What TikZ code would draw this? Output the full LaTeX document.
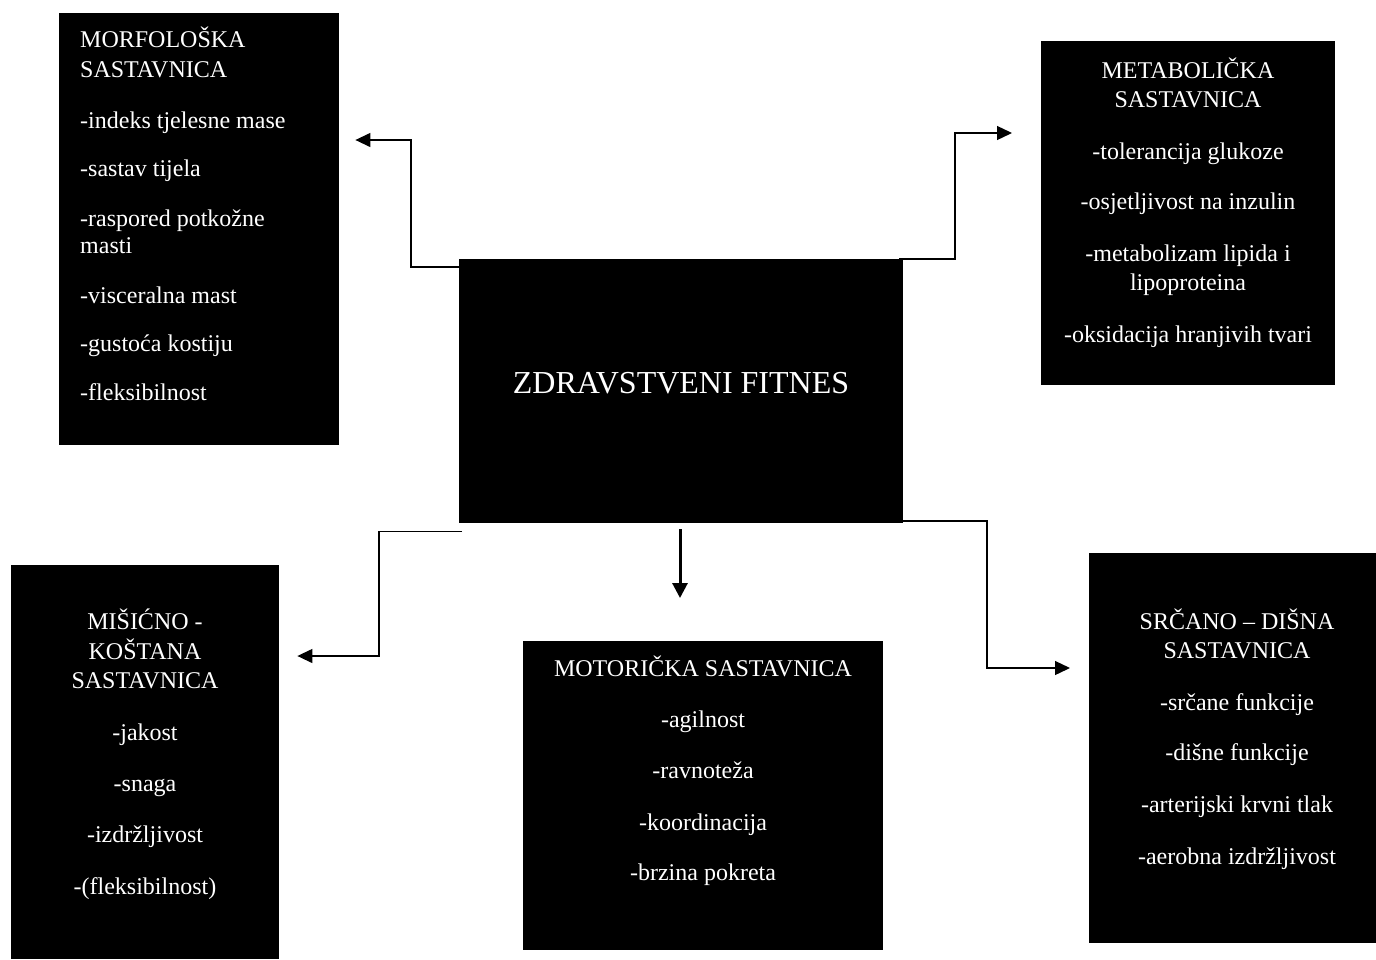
\documentclass[tikz,border=0pt]{standalone}
\usepackage{fontspec}
\setmainfont{Liberation Serif}
\usetikzlibrary{arrows.meta}
\tikzset{
  blk/.style={draw=none,fill=black,inner sep=0pt,anchor=north west},
  t/.style={text=white,font=\fontsize{24}{28}\selectfont,anchor=base,inner sep=0pt},
  tl/.style={t,anchor=base west},
  conn/.style={line width=1.3pt,-{Triangle[length=15pt,width=14pt]}},
  thick conn/.style={line width=3pt,-{Triangle[length=15pt,width=15pt]}}
}
\begin{document}
\begin{tikzpicture}[x=1pt,y=-1pt]
\useasboundingbox (0,0) rectangle (1376,959);
% boxes
\node[blk,minimum width=280pt,minimum height=432pt] (morf) at (59,13) {};
\node[blk,minimum width=294pt,minimum height=344pt] (meta) at (1041,41) {};
\node[blk,minimum width=444pt,minimum height=264pt] (zf) at (459,259) {};
\node[blk,minimum width=268pt,minimum height=394pt] (misi) at (11,565) {};
\node[blk,minimum width=360pt,minimum height=309pt] (moto) at (523,641) {};
\node[blk,minimum width=287pt,minimum height=390pt] (srce) at (1089,553) {};
% centre title
\node[t,font=\fontsize{32}{38}\selectfont] (zft) at (681,393) {ZDRAVSTVENI FITNES};
% morfoloska
\node[tl] (m1) at (80,47) {MORFOLOŠKA};
\node[tl] (m2) at (80,77) {SASTAVNICA};
\node[tl] (m3) at (80,128) {-indeks tjelesne mase};
\node[tl] (m4) at (80,176) {-sastav tijela};
\node[tl] (m5) at (80,226) {-raspored potkožne};
\node[tl] (m6) at (80,253) {masti};
\node[tl] (m7) at (80,303) {-visceralna mast};
\node[tl] (m8) at (80,351) {-gustoća kostiju};
\node[tl] (m9) at (80,400) {-fleksibilnost};
% metabolicka
\node[t] (b1) at (1188,78) {METABOLIČKA};
\node[t] (b2) at (1188,107) {SASTAVNICA};
\node[t] (b3) at (1188,159) {-tolerancija glukoze};
\node[t] (b4) at (1188,209) {-osjetljivost na inzulin};
\node[t] (b5) at (1188,261) {-metabolizam lipida i};
\node[t] (b6) at (1188,290) {lipoproteina};
\node[t] (b7) at (1188,342) {-oksidacija hranjivih tvari};
% misicno
\node[t] (k1) at (145,629) {MIŠIĆNO -};
\node[t] (k2) at (145,659) {KOŠTANA};
\node[t] (k3) at (145,688) {SASTAVNICA};
\node[t] (k4) at (145,740) {-jakost};
\node[t] (k5) at (145,791) {-snaga};
\node[t] (k6) at (145,842) {-izdržljivost};
\node[t] (k7) at (145,894) {-(fleksibilnost)};
% motoricka
\node[t] (o1) at (703,676) {MOTORIČKA SASTAVNICA};
\node[t] (o2) at (703,727) {-agilnost};
\node[t] (o3) at (703,778) {-ravnoteža};
\node[t] (o4) at (703,830) {-koordinacija};
\node[t] (o5) at (703,880) {-brzina pokreta};
% srcano
\node[t] (s1) at (1237,629) {SRČANO – DIŠNA};
\node[t] (s2) at (1237,658) {SASTAVNICA};
\node[t] (s3) at (1237,710) {-srčane funkcije};
\node[t] (s4) at (1237,760) {-dišne funkcije};
\node[t] (s5) at (1237,812) {-arterijski krvni tlak};
\node[t] (s6) at (1237,864) {-aerobna izdržljivost};
% connector end points
\coordinate (eMorf) at ([xshift=16pt]morf.east |- 0,140);
\coordinate (eMeta) at ([xshift=-29pt]meta.west |- 0,133);
\coordinate (eMisi) at ([xshift=18pt]misi.east |- 0,656);
\coordinate (eSrce) at ([xshift=-19pt]srce.west |- 0,668);
\coordinate (eMoto) at (680,598);
% connectors
\draw[conn] (zf.north west |- 0,267) -| (411,140) -- (eMorf);
\draw[conn] ([xshift=-4pt]zf.north east) -- (955,259) |- (eMeta);
\draw[conn] ([xshift=3pt,yshift=-8pt]zf.south west) -| (379,656) -- (eMisi);
\draw[conn] (zf.south east |- 0,521) -| (987,668) -- (eSrce);
\draw[thick conn] ([yshift=-6pt]zf.south -| eMoto) -- (eMoto);
\end{tikzpicture}
\end{document}
